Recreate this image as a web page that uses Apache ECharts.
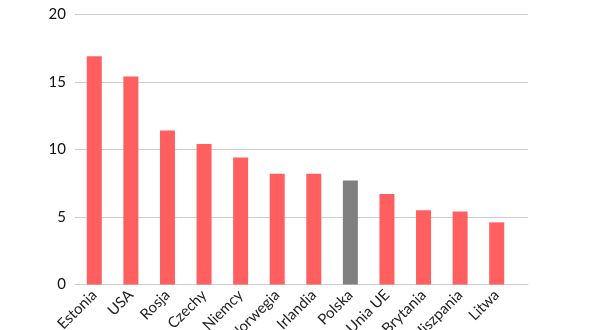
<!DOCTYPE html>
<html>
<head>
<meta charset="utf-8">
<script src="https://cdn.jsdelivr.net/npm/echarts@6/dist/echarts.min.js"></script>
<style>
  html, body { margin: 0; padding: 0; background: #fff; }
  #chart { width: 600px; height: 330px; }
</style>
</head>
<body>
<div id="chart"></div>
<script>
// kraje i wartosci
var categories = ['Estonia', 'USA', 'Rosja', 'Czechy', 'Niemcy', 'Norwegia', 'Irlandia', 'Polska', 'Unia UE', 'Wielka Brytania', 'Hiszpania', 'Litwa'];
var values = [16.9, 15.4, 11.4, 10.4, 9.4, 8.2, 8.2, 7.7, 6.7, 5.5, 5.4, 4.6];
var highlight = 'Polska';
var yTicks = [0, 5, 10, 15, 20];

var red = '#ff5f5f';
var gray = '#808080';

var chart = echarts.init(document.getElementById('chart'));

var barData = values.map(function (v, i) {
    return {
        value: v,
        itemStyle: { color: categories[i] === highlight ? gray : red }
    };
});

chart.setOption({
    animation: false,
    grid: [
        // siatka z liniami poziomymi (szersza)
        { left: 75, right: 72, top: 14.3, bottom: 45.5, containLabel: false, outerBoundsMode: 'none' },
        // slupki
        { left: 76, right: 85, top: 14.3, bottom: 45.5, containLabel: false, outerBoundsMode: 'none' }
    ],
    xAxis: [
        {
            gridIndex: 0,
            type: 'category',
            data: categories,
            axisLine: { show: true, lineStyle: { color: '#cccccc' } },
            axisTick: { show: false },
            axisLabel: { show: false }
        },
        {
            gridIndex: 1,
            type: 'category',
            data: categories,
            axisLine: { show: false },
            axisTick: { show: false },
            axisLabel: {
                rotate: 45,
                margin: 8,
                interval: 0,
                fontFamily: 'Lato',
                fontSize: 15,
                color: '#222'
            }
        }
    ],
    yAxis: [
        {
            gridIndex: 0,
            type: 'value',
            min: yTicks[0],
            max: yTicks[yTicks.length - 1],
            interval: 5,
            axisLine: { show: false },
            axisTick: { show: false },
            axisLabel: {
                margin: 9,
                fontFamily: 'Lato',
                fontSize: 15,
                color: '#111'
            },
            splitLine: { lineStyle: { color: '#cccccc' } }
        },
        {
            gridIndex: 1,
            type: 'value',
            min: yTicks[0],
            max: yTicks[yTicks.length - 1],
            show: false
        }
    ],
    series: [
        {
            type: 'bar',
            xAxisIndex: 1,
            yAxisIndex: 1,
            barWidth: 15,
            data: barData
        }
    ]
});
</script>
</body>
</html>
